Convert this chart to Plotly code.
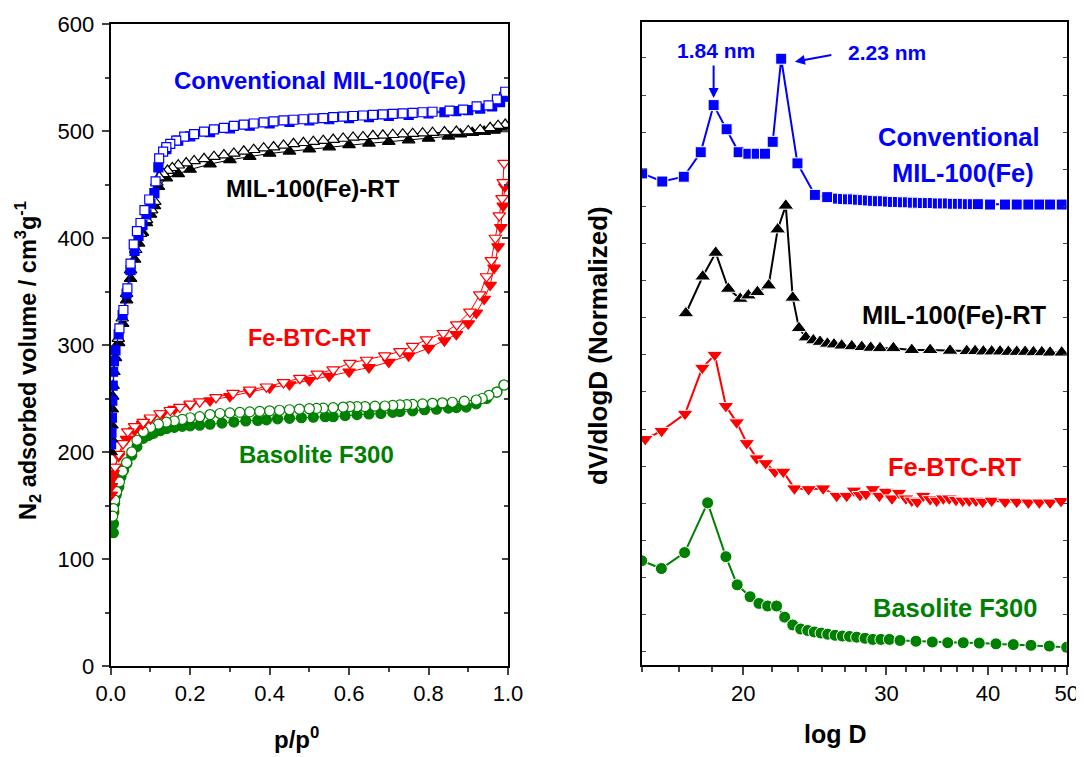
import math
import plotly.graph_objects as go

# ---------------- Left panel: N2 isotherms ----------------
conv_ads_p = [0.001,0.002,0.003,0.004,0.005,0.006,0.008,0.012,0.02,0.03,0.04,0.05,0.06,0.07,0.08,0.09,0.10,0.11,0.12,0.14,0.17,0.2,0.25,0.3,0.35,0.4,0.45,0.5,0.55,0.6,0.65,0.7,0.75,0.8,0.84,0.87,0.9,0.93,0.96,0.98,0.99]
conv_ads_v = [207,218,232,248,262,275,285,295,310,328,348,370,388,402,412,422,432,442,466,483,491,495,499,502.5,505,507,508.5,510,511,512,513,514,515,516.5,517.5,518.5,519.5,521,523,527,532]
conv_des_p = [0.993,0.972,0.951,0.921,0.887,0.853,0.81,0.785,0.76,0.735,0.71,0.685,0.66,0.635,0.61,0.585,0.56,0.535,0.51,0.485,0.46,0.435,0.41,0.385,0.36,0.335,0.31,0.285,0.26,0.235,0.21,0.185,0.165,0.15,0.14,0.132,0.122,0.113,0.097,0.085,0.075,0.066,0.058,0.05,0.042,0.032,0.022]
conv_des_v = [536.7,529.6,524,523,520,519,518,517.5,517,516.5,516,515.5,515,514.5,514,513.5,513,512,511.5,511,510.5,510,509,508,507,506,504.7,503,501.5,499.5,497,494.7,491,488,485,480.7,474.5,453,436,426,414,406.5,394,376,353,332.7,315.6]

rt_ads_p = [0.001,0.002,0.003,0.004,0.005,0.006,0.008,0.012,0.02,0.03,0.04,0.05,0.06,0.07,0.08,0.09,0.10,0.11,0.12,0.14,0.17,0.2,0.25,0.3,0.35,0.4,0.45,0.5,0.55,0.6,0.65,0.7,0.75,0.8,0.85,0.88,0.91,0.94,0.965,0.985,0.995]
rt_ads_v = [200,212,225,240,252,262,275,288,302,320,342,362,380,395,405,414,422,430,448,456,460,464,469,473,476,479,481,483,485,487,488.5,490,491.5,493,495,497,498.5,499.5,500.5,502,505]
rt_des_p = [0.993,0.975,0.955,0.93,0.90,0.87,0.84,0.81,0.785,0.76,0.735,0.71,0.685,0.66,0.635,0.61,0.585,0.56,0.535,0.51,0.485,0.46,0.435,0.41,0.385,0.36,0.335,0.31,0.285,0.26,0.235,0.21,0.19,0.17,0.155,0.143,0.132,0.122,0.116,0.111,0.103,0.09,0.075,0.063,0.05,0.04,0.029,0.019]
rt_des_v = [506,505,503,501,500,499.5,499,498.4,498,497.5,497,496.5,496,495.5,494.5,494,493,492,491,490,489,488,486.5,485,484,482.5,481,479,477.5,476,474,472,470,468,465.5,463,460,457,452,434,426,417,404,389,370,348,325,306]

fe_ads_p = [0.001,0.002,0.004,0.006,0.01,0.02,0.04,0.06,0.08,0.1,0.13,0.16,0.2,0.25,0.3,0.35,0.4,0.45,0.5,0.55,0.6,0.65,0.7,0.75,0.8,0.84,0.87,0.9,0.92,0.94,0.955,0.965,0.975,0.982,0.988,0.992]
fe_ads_v = [160,168,175,180,186,196,212,220,226,231,236,240,244,248,252,256,260,263,267,271,275,279,284,290,297,304,310,320,330,343,356,372,392,410,430,448]
fe_des_p = [0.99,0.988,0.985,0.978,0.968,0.958,0.946,0.929,0.904,0.871,0.837,0.795,0.76,0.728,0.69,0.644,0.602,0.56,0.52,0.476,0.435,0.392,0.35,0.308,0.265,0.224,0.2,0.174,0.15,0.124,0.1,0.082,0.06,0.043,0.031,0.02,0.011]
fe_des_v = [470,452,437,421,400,379,364,347,331,319,311,305,299,294,290,286,283,277,273,269,265,261,258,255,251,247,245,242,239,236,232,228,224,219,208,198,186]

bas_ads_p = [0.0066,0.007,0.008,0.01,0.014,0.0205,0.026,0.0325,0.041,0.053,0.066,0.082,0.095,0.108,0.125,0.141,0.16,0.18,0.2,0.224,0.25,0.28,0.31,0.34,0.37,0.392,0.42,0.45,0.48,0.51,0.54,0.56,0.59,0.62,0.65,0.68,0.71,0.728,0.76,0.79,0.82,0.85,0.87,0.895,0.92,0.946,0.972,0.99]
bas_ads_v = [124.6,133,144,152,160,167.6,177,183,189.4,197,205,212.8,215.5,217.5,220,222,223,224,224.5,225,226,227,228,229,229.5,230,231,231.5,232,232.5,233,233,234,235,235.5,236,237,237.7,238.5,239.5,240,241,241.5,242,245,250,256,262.6]
bas_des_p = [0.99,0.972,0.952,0.935,0.92,0.89,0.86,0.835,0.81,0.785,0.76,0.745,0.728,0.71,0.69,0.665,0.64,0.62,0.602,0.585,0.56,0.535,0.518,0.5,0.475,0.45,0.425,0.4,0.375,0.35,0.325,0.3,0.275,0.25,0.224,0.2,0.18,0.16,0.14,0.12,0.1,0.082,0.066,0.053,0.04,0.03,0.022,0.015,0.01,0.007,0.005]
bas_des_v = [262.6,256,253,250,248.6,247.5,246.5,246,245.5,245,244.5,244.3,244,243.5,243,242.8,242.5,242.4,242.4,242,241.5,241,240.8,240.5,240,239.5,239,238.5,238,237.5,237,236.5,236,235,233,232,230.5,229,228,226,223,219,211,200,190,182,172,163,155,147,140]

# ---------------- Right panel: pore size distributions ----------------
psd_conv_D = [15.02,15.9,16.9,17.73,18.39,19.08,19.74,20.29,20.78,21.27,21.74,22.27,23.32,24.5,25.37,
              26.16,26.53,26.91,27.29,27.68,28.07,28.47,28.88,29.29,29.71,30.13,30.56,31.0,31.44,31.89,32.34,32.8,33.27,33.74,34.22,34.71,35.21,35.71,36.22,36.74,37.26,37.79,38.33,38.88,
              40.24,41.98,43.4,44.85,46.27,47.7,49.3]
psd_conv_v = [13.25,13.03,13.16,13.82,15.09,14.44,13.82,13.78,13.78,13.78,14.1,16.34,13.52,12.67,12.61,
              12.57,12.56,12.55,12.55,12.54,12.53,12.52,12.51,12.5,12.5,12.49,12.48,12.48,12.47,12.47,12.46,12.46,12.45,12.45,12.45,12.44,12.44,12.44,12.43,12.43,12.43,12.42,12.42,12.42,
              12.41,12.41,12.41,12.41,12.41,12.41,12.41]

psd_rt_D = [17.0,17.83,18.5,19.17,19.83,20.29,20.82,21.49,22.05,22.56,23.01,23.42,23.88,24.39,24.86,25.38,25.86,26.43,27.2,27.98,28.7,29.46,30.6,32.24,33.96,35.93,
            37.67,38.57,39.48,40.43,41.4,42.38,43.4,44.44,45.5,46.6,47.7,49.3]
psd_rt_v = [9.48,10.47,11.11,10.14,9.87,9.96,10.05,10.23,11.74,12.38,9.9,9.08,8.83,8.75,8.71,8.66,8.64,8.61,8.59,8.57,8.55,8.54,8.54,8.49,8.49,8.47,
            8.46,8.46,8.45,8.45,8.45,8.44,8.44,8.44,8.43,8.43,8.42,8.42]

psd_fe_D = [15.15,15.87,16.96,17.81,18.45,19.04,19.63,20.2,20.78,21.31,21.88,22.4,23.12,24.07,25.08,26.06,26.81,27.37,27.84,28.32,28.87,29.41,29.97,30.48,31.09,31.71,32.24,32.74,33.3,33.96,34.59,35.25,35.85,36.54,37.24,37.94,38.67,39.41,40.43,41.99,43.4,44.85,46.27,47.7,49.2]
psd_fe_v = [6.09,6.31,6.77,8.01,8.36,6.98,6.54,5.98,5.57,5.44,5.21,5.21,4.76,4.74,4.76,4.56,4.56,4.7,4.58,4.61,4.74,4.56,4.67,4.49,4.64,4.49,4.43,4.4,4.56,4.47,4.43,4.49,4.49,4.45,4.43,4.43,4.43,4.4,4.43,4.4,4.4,4.38,4.38,4.38,4.42]

psd_bas_D = [15.0,15.86,16.94,18.08,19.04,19.66,20.39,20.91,21.43,21.98,22.49,23.01,23.53,24.01,24.46,24.93,25.41,25.94,26.48,27.02,27.58,28.24,28.87,29.54,30.25,31.18,32.62,34.17,35.69,37.3,39.03,40.92,42.98,45.19,47.6,50.0]
psd_bas_v = [2.81,2.6,3.03,4.37,2.92,2.16,1.84,1.66,1.59,1.59,1.29,1.08,0.97,0.93,0.89,0.86,0.83,0.8,0.78,0.77,0.75,0.72,0.69,0.69,0.69,0.66,0.64,0.62,0.6,0.6,0.59,0.57,0.55,0.53,0.51,0.48]

x2_major = [20, 30, 40, 50]
x2_minor = [15, 16.67, 18.33, 21.67, 23.33, 25, 26.67, 28.33, 31.67, 33.33,
            35, 36.67, 38.33, 41.67, 43.33, 45, 46.67, 48.33]

BLUE = "#0000FF"
BLACK = "#000000"
RED = "#FF0000"
GREEN = "#008000"
FONT = "Liberation Sans, Arial, sans-serif"

# the page body has an 8 px margin; the figure starts 8 px in and runs to the window edge
PAGE_MARGIN = 8
W, H = 1084 - PAGE_MARGIN, 757 - PAGE_MARGIN

def px(x):
    return (x - PAGE_MARGIN) / W

def py(y):
    return 1 - (y - PAGE_MARGIN) / H

fig = go.Figure()

def iso(p, v, color, symbol, filled, size=10):
    fig.add_trace(go.Scatter(
        x=p, y=v, mode="lines+markers", xaxis="x", yaxis="y",
        line=dict(color=color, width=1),
        marker=dict(symbol=symbol, size=size,
                    color=color if filled else "white",
                    line=dict(color=color, width=1.2)),
        showlegend=False, hoverinfo="skip"))

iso(bas_ads_p, bas_ads_v, GREEN, "circle", True)
iso(bas_des_p, bas_des_v, GREEN, "circle", False)
iso(fe_ads_p, fe_ads_v, RED, "triangle-down", True, 11)
iso(fe_des_p, fe_des_v, RED, "triangle-down", False, 11)
iso(rt_ads_p, rt_ads_v, BLACK, "triangle-up", True, 11)
iso(rt_des_p, rt_des_v, BLACK, "triangle-up", False, 11)
iso(conv_ads_p, conv_ads_v, BLUE, "square", True, 9)
iso(conv_des_p, conv_des_v, BLUE, "square", False, 9)

# empty trace so the inner-tick right axis of the left panel is drawn
fig.add_trace(go.Scatter(x=[], y=[], xaxis="x", yaxis="y3", showlegend=False, hoverinfo="skip"))

def psd(D, v, color, symbol, size):
    fig.add_trace(go.Scatter(
        x=D, y=v, mode="lines+markers", xaxis="x2", yaxis="y2",
        line=dict(color=color, width=2),
        marker=dict(symbol=symbol, size=size, color=color,
                    line=dict(color="white", width=1)),
        showlegend=False, hoverinfo="skip"))

psd(psd_conv_D, psd_conv_v, BLUE, "square", 11)
psd(psd_rt_D, psd_rt_v, BLACK, "triangle-up", 14)
psd(psd_fe_D, psd_fe_v, RED, "triangle-down", 14)
psd(psd_bas_D, psd_bas_v, GREEN, "circle", 12)

tickfont = dict(family=FONT, size=22, color="black")

dom_x1 = [px(110.7), px(508)]
dom_y1 = [py(666), py(24)]
dom_x2 = [px(641.7), px(1066.7)]
dom_y2 = [py(665), py(22)]

fig.update_layout(
    width=W, height=H,
    margin=dict(l=0, r=0, t=0, b=0, autoexpand=False),
    paper_bgcolor="white", plot_bgcolor="white",
    font=dict(family=FONT, color="black"),
    xaxis=dict(domain=dom_x1, anchor="y", range=[0, 1], dtick=0.2, tickformat=".1f",
               ticks="outside", ticklen=7, tickwidth=1.5, showline=True, linewidth=2,
               linecolor="black", mirror=True, showgrid=False, zeroline=False,
               tickfont=tickfont, automargin=False,
               minor=dict(dtick=0.1, ticks="outside", ticklen=4, tickwidth=1.5, showgrid=False)),
    yaxis=dict(domain=dom_y1, anchor="x", range=[0, 600], dtick=100,
               ticks="outside", ticklen=7, tickwidth=1.5, showline=True, linewidth=2,
               linecolor="black", mirror=True, showgrid=False, zeroline=False,
               tickfont=tickfont, automargin=False, ticklabelstandoff=3,
               minor=dict(dtick=50, ticks="outside", ticklen=4, tickwidth=1.5, showgrid=False)),
    yaxis3=dict(overlaying="y", anchor="x", side="right", range=[0, 600], dtick=100,
                ticks="inside", ticklen=6, tickwidth=1.5, showticklabels=False,
                showline=False, showgrid=False, zeroline=False, automargin=False,
                minor=dict(dtick=50, ticks="inside", ticklen=4, tickwidth=1.5, showgrid=False)),
    xaxis2=dict(domain=dom_x2, anchor="y2", type="log",
                range=[math.log10(15), math.log10(50) + 1e-6],
                tickmode="array", tickvals=x2_major,
                ticks="outside", ticklen=8, tickwidth=1.5, showline=True, linewidth=2,
                linecolor="black", mirror=True, showgrid=False, zeroline=False,
                tickfont=tickfont, automargin=False,
                minor=dict(tickmode="array", tickvals=x2_minor,
                           ticks="outside", ticklen=5, tickwidth=1.5, showgrid=False)),
    yaxis2=dict(domain=dom_y2, anchor="x2", range=[0, 17.33], tick0=0.36, dtick=1,
                ticks="inside", ticklen=4, tickwidth=1, showticklabels=False,
                showline=True, linewidth=2, linecolor="black", mirror="ticks",
                showgrid=False, zeroline=False, automargin=False),
)

ann = []

def label(text, x, y, color, size=24):
    ann.append(dict(text=text, x=x, y=y, xref="paper", yref="paper", showarrow=False,
                    xanchor="center", yanchor="middle",
                    font=dict(family=FONT, size=size, color=color)))

# left panel labels
label("<b>Conventional MIL-100(Fe)</b>", px(319.5), py(80.7), BLUE)
label("<b>MIL-100(Fe)-RT</b>", px(313), py(188.3), BLACK)
label("<b>Fe-BTC-RT</b>", px(309), py(338.3), RED, 23.5)
label("<b>Basolite F300</b>", px(316), py(454), GREEN)

# right panel labels
label("<b>1.84 nm</b>", px(716), py(50), BLUE, size=21)
label("<b>2.23 nm</b>", px(887), py(52.3), BLUE, size=21)
label("<b>Conventional</b>", px(959), py(136.7), BLUE, 25.5)
label("<b>MIL-100(Fe)</b>", px(962.5), py(172.7), BLUE, 25.5)
label("<b>MIL-100(Fe)-RT</b>", px(954), py(315), BLACK, 25.5)
label("<b>Fe-BTC-RT</b>", px(955), py(467.3), RED, 25.5)
label("<b>Basolite F300</b>", px(955), py(608.3), GREEN, 25.5)

# axis titles
label("<b>p/p<sup>0</sup></b>", px(296), py(738), BLACK, size=24)
label("<b>log D</b>", px(835), py(734), BLACK, size=25)
ann.append(dict(text="<b>N<sub>2</sub> adsorbed volume / cm<sup>3</sup>g<sup>-1</sup></b>",
                x=px(27), y=py(361), xref="paper", yref="paper", showarrow=False,
                textangle=-90, xanchor="center", yanchor="middle",
                font=dict(family=FONT, size=23.5, color=BLACK)))
ann.append(dict(text="<b>dV/dlogD (Normalized)</b>",
                x=px(598), y=py(346), xref="paper", yref="paper", showarrow=False,
                textangle=-90, xanchor="center", yanchor="middle",
                font=dict(family=FONT, size=26, color=BLACK)))

# arrows in right panel
ann.append(dict(text="", x=math.log10(18.39), y=15.28, xref="x2", yref="y2",
                showarrow=True, ax=0, ay=-34, axref="pixel", ayref="pixel",
                arrowhead=2, arrowsize=1, arrowwidth=2, arrowcolor=BLUE, standoff=0))
ann.append(dict(text="", x=math.log10(23.15), y=16.26, xref="x2", yref="y2",
                showarrow=True, ax=38, ay=-7, axref="pixel", ayref="pixel",
                arrowhead=2, arrowsize=1, arrowwidth=2, arrowcolor=BLUE, standoff=0))

fig.update_layout(annotations=ann)
fig.write_html("out.html")
